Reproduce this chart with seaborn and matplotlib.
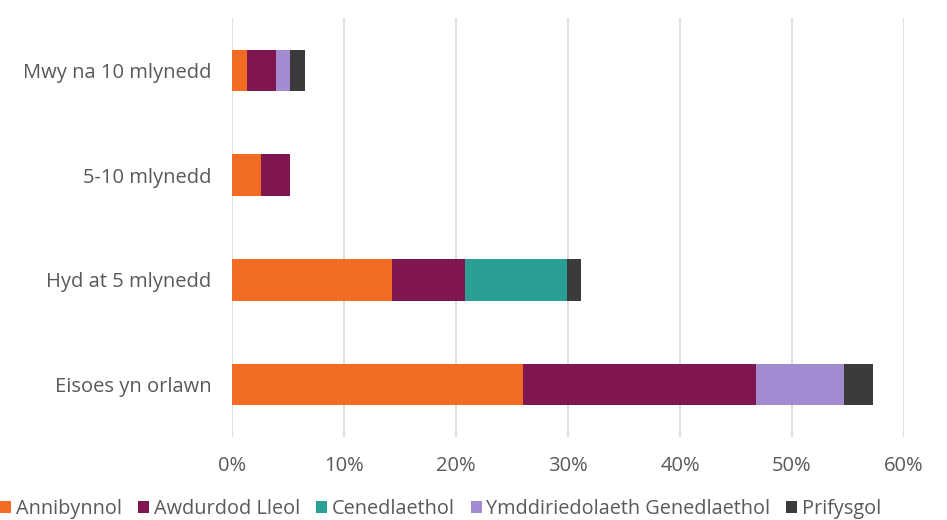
import pandas as pd
import matplotlib.pyplot as plt
import seaborn as sns

# Data (percent of respondents)
categories = ["Mwy na 10 mlynedd", "5-10 mlynedd", "Hyd at 5 mlynedd", "Eisoes yn orlawn"]
series_names = ["Annibynnol", "Awdurdod Lleol", "Cenedlaethol",
                "Ymddiriedolaeth Genedlaethol", "Prifysgol"]
annibynnol = [1.3, 2.6, 14.3, 26.0]
awdurdod = [2.6, 2.6, 6.5, 20.8]
cenedlaethol = [0.0, 0.0, 9.1, 0.0]
ymddiriedolaeth = [1.3, 0.0, 0.0, 7.8]
prifysgol = [1.3, 0.0, 1.3, 2.6]

colors = ["#F26B22", "#7F1650", "#2A9F93", "#A28BD0", "#3B3B3B"]

df = pd.DataFrame({
    "category": categories,
    "Annibynnol": annibynnol,
    "Awdurdod Lleol": awdurdod,
    "Cenedlaethol": cenedlaethol,
    "Ymddiriedolaeth Genedlaethol": ymddiriedolaeth,
    "Prifysgol": prifysgol,
})

# cumulative sums for stacking
cum = df[series_names].cumsum(axis=1)
cum["category"] = df["category"]

sns.set_style("white")
plt.rcParams["font.family"] = ["Open Sans", "DejaVu Sans"]

fig = plt.figure(figsize=(9.47, 5.2), dpi=100)
ax = fig.add_axes([0.245, 0.16, 0.7096, 0.805])

# draw largest cumulative first so smaller ones sit on top
for name, col in reversed(list(zip(series_names, colors))):
    sns.barplot(data=cum, x=name, y="category", order=categories,
                color=col, width=0.4, ax=ax, label=name,
                saturation=1, linewidth=0)

ax.set_xlim(0, 60)
ax.set_xticks(range(0, 61, 10))
ax.set_xticklabels([f"{t}%" for t in range(0, 61, 10)])
ax.set_xlabel("")
ax.set_ylabel("")
ax.grid(axis="x", color="#D9D9D9", linewidth=1.2)
ax.set_axisbelow(True)
for s in ax.spines.values():
    s.set_visible(False)
ax.tick_params(axis="both", length=0, labelsize=14.5, labelcolor="#595959")
ax.tick_params(axis="y", pad=15)
ax.tick_params(axis="x", pad=14)

if ax.get_legend() is not None:
    ax.get_legend().remove()
handles, labels = ax.get_legend_handles_labels()
order = [labels.index(n) for n in series_names]
fig.legend([handles[i] for i in order], series_names, ncol=5,
           loc="center left", bbox_to_anchor=(0.0, 0.022),
           frameon=False, fontsize=14.3, handlelength=0.55, handleheight=0.55,
           handletextpad=0.25, columnspacing=0.8, labelcolor="#595959",
           borderaxespad=0, borderpad=0)

fig.savefig("out.png", dpi=100)
